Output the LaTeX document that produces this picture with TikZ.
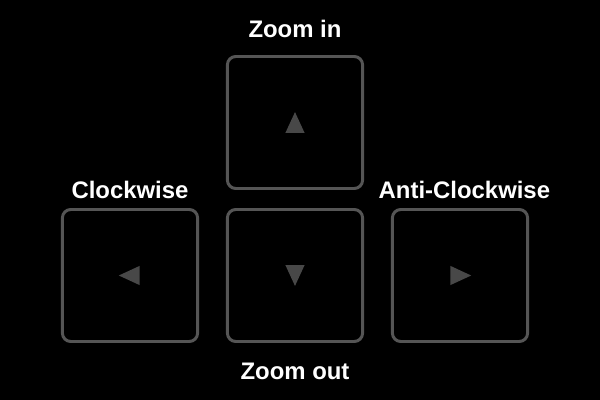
\documentclass[tikz,border=0pt]{standalone}
\usepackage{fontspec}
\setmainfont{Liberation Sans}
\usetikzlibrary{positioning}
\definecolor{keyline}{RGB}{85,85,85}
\definecolor{keyarrow}{RGB}{72,72,72}

\begin{document}
\begin{tikzpicture}[x=0.025cm, y=-0.025cm,
    keybox/.style={draw=keyline, line width=2.1pt, rounded corners=6pt,
                   minimum width=3.38cm, minimum height=3.3cm, fill=black},
    keylabel/.style={text=white, font=\bfseries\fontsize{17}{20}\selectfont},
  ]
  % Background
  \fill[black] (0,0) rectangle (600,400);
  \useasboundingbox (0,0) rectangle (600,400);

  % Keys
  \node[keybox] (up) at (295,122.5) {};
  \node[keybox] (left) at (130,275.5) {};
  \node[keybox] (down) at (295,275.5) {};
  \node[keybox] (right) at (460,275.5) {};

  % Arrow marks
  \fill[keyarrow] ([yshift=0.26cm]up.center) -- ++(-0.24cm,-0.52cm) -- ++(0.48cm,0) -- cycle;
  \fill[keyarrow] ([yshift=-0.26cm]down.center) -- ++(-0.24cm,0.52cm) -- ++(0.48cm,0) -- cycle;
  \fill[keyarrow] ([xshift=-0.28cm]left.center) -- ++(0.52cm,0.24cm) -- ++(0,-0.48cm) -- cycle;
  \fill[keyarrow] ([xshift=0.28cm]right.center) -- ++(-0.52cm,0.24cm) -- ++(0,-0.48cm) -- cycle;

  % Labels
  \node[keylabel, above=0.3cm of up] (zin) {Zoom in};
  \node[keylabel, above=0.12cm of left] (cw) {Clockwise};
  \node[keylabel, above=0.12cm of right, xshift=0.11cm] (acw) {Anti-Clockwise};
  \node[keylabel, below=0.38cm of down] (zout) {Zoom out};
\end{tikzpicture}
\end{document}
